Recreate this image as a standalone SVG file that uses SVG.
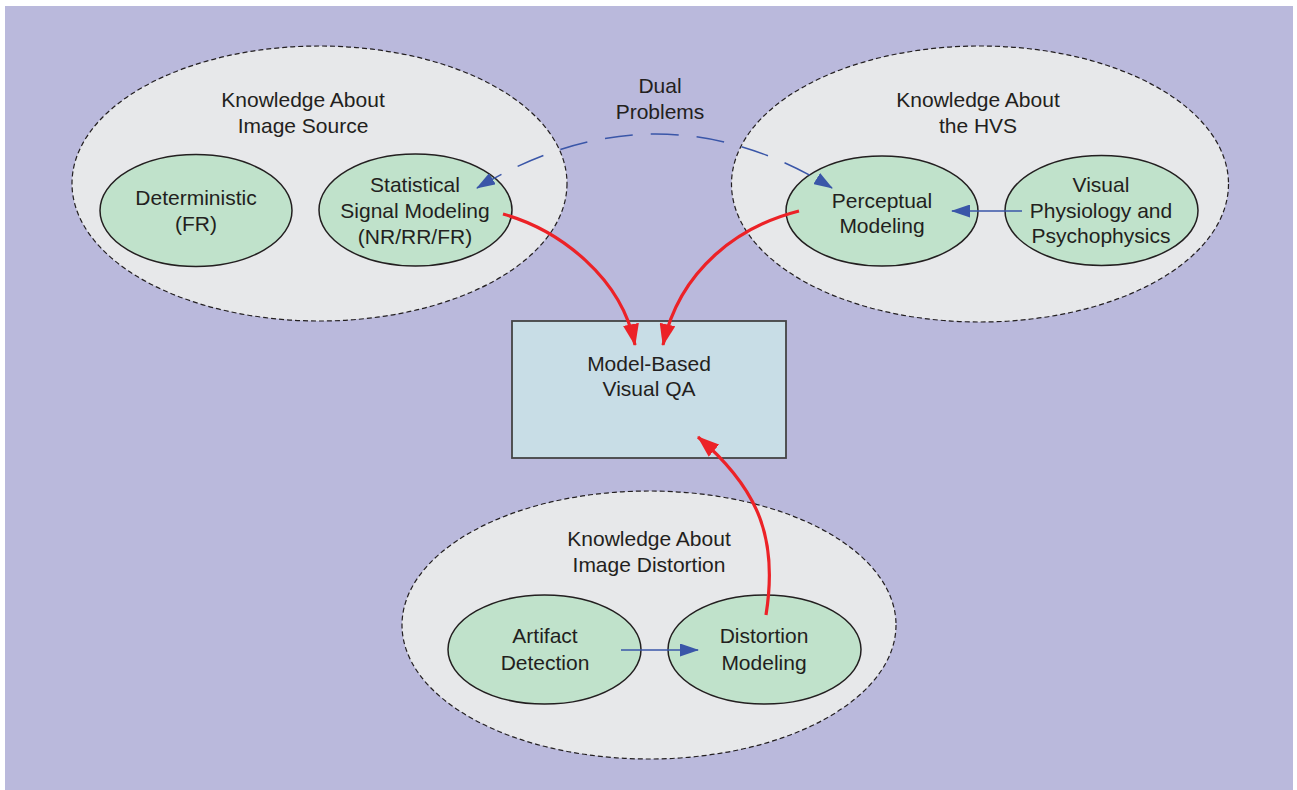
<svg xmlns="http://www.w3.org/2000/svg" width="1297" height="790" viewBox="0 0 1297 790">
<style>
.bg{fill:#bab9dc}
.grp{fill:#e7e8ea;stroke:#231f20;stroke-width:1.2;stroke-dasharray:5 3}
.node{fill:#c0e2cb;stroke:#231f20;stroke-width:1.5}
.box{fill:#c8dde6;stroke:#444;stroke-width:1.8}
text{font-family:"Liberation Sans",Arial,Helvetica,sans-serif;font-size:21px;fill:#231f20;text-anchor:middle}
.red{fill:none;stroke:#ec2227;stroke-width:3.2}
.blue{fill:none;stroke:#3a56a8;stroke-width:1.5}
.dash{stroke-dasharray:28 18}
</style>
<defs>
<marker id="ar" markerUnits="userSpaceOnUse" viewBox="0 0 22 16" markerWidth="22" markerHeight="16" refX="21" refY="8" orient="auto">
<path d="M0,0 L22,8 L0,16 Z" fill="#ec2227"/>
</marker>
<marker id="ab" markerUnits="userSpaceOnUse" viewBox="0 0 19 13" markerWidth="19" markerHeight="13" refX="18" refY="6.5" orient="auto">
<path d="M0,0 L19,6.5 L0,13 Z" fill="#3a56a8"/>
</marker>
<marker id="abs" markerUnits="userSpaceOnUse" viewBox="0 0 19 13" markerWidth="19" markerHeight="13" refX="1" refY="6.5" orient="auto">
<path d="M19,0 L0,6.5 L19,13 Z" fill="#3a56a8"/>
</marker>
</defs>
<rect class="bg" x="5" y="6" width="1288" height="784"/>
<g id="group-source">
<ellipse class="grp" cx="319.5" cy="183.5" rx="247.5" ry="137.5"/>
<text x="303" y="107">Knowledge About</text>
<text x="303" y="133">Image Source</text>
</g>
<g id="group-hvs">
<ellipse class="grp" cx="980" cy="184" rx="248.5" ry="138"/>
<text x="978" y="107">Knowledge About</text>
<text x="978" y="133">the HVS</text>
</g>
<g id="group-distortion">
<ellipse class="grp" cx="649" cy="625" rx="247" ry="134"/>
<text x="649" y="546">Knowledge About</text>
<text x="649" y="572">Image Distortion</text>
</g>
<g id="dual-label">
<text x="660" y="93">Dual</text>
<text x="660" y="119">Problems</text>
</g>
<g id="deterministic">
<ellipse class="node" cx="196" cy="210.5" rx="96" ry="56"/>
<text x="196" y="205">Deterministic</text>
<text x="196" y="231">(FR)</text>
</g>
<g id="statistical">
<ellipse class="node" cx="415.5" cy="210" rx="96.5" ry="56"/>
<text x="415" y="192">Statistical</text>
<text x="415" y="218">Signal Modeling</text>
<text x="415" y="244">(NR/RR/FR)</text>
</g>
<g id="perceptual">
<ellipse class="node" cx="882" cy="211" rx="96" ry="55"/>
<text x="882" y="208">Perceptual</text>
<text x="882" y="233">Modeling</text>
</g>
<g id="visual">
<ellipse class="node" cx="1101.5" cy="210.5" rx="96.5" ry="55"/>
<text x="1101" y="192">Visual</text>
<text x="1101" y="218">Physiology and</text>
<text x="1101" y="243">Psychophysics</text>
</g>
<g id="artifact">
<ellipse class="node" cx="544.5" cy="649.5" rx="96.5" ry="54.5"/>
<text x="545" y="643">Artifact</text>
<text x="545" y="670">Detection</text>
</g>
<g id="distortion">
<ellipse class="node" cx="764.5" cy="649.5" rx="96.5" ry="54.5"/>
<text x="764" y="643">Distortion</text>
<text x="764" y="670">Modeling</text>
</g>
<g id="qa">
<rect class="box" x="512" y="321" width="274" height="137"/>
<text x="649" y="371">Model-Based</text>
<text x="649" y="396">Visual QA</text>
</g>
<g id="connectors">
<path class="red" d="M503,214 C560,230 622,278 635,345" marker-end="url(#ar)"/>
<path class="red" d="M799,211 C740,226 680,268 663,345" marker-end="url(#ar)"/>
<path class="red" d="M766,615 C778,540 760,490 698,437" marker-end="url(#ar)"/>
<path class="blue" d="M1022,211 L952,211" marker-end="url(#ab)"/>
<path class="blue" d="M621,650 L698,650" marker-end="url(#ab)"/>
<path class="blue dash" d="M477,188 Q657,80 832,188" marker-start="url(#abs)" marker-end="url(#ab)"/>
</g>
</svg>
